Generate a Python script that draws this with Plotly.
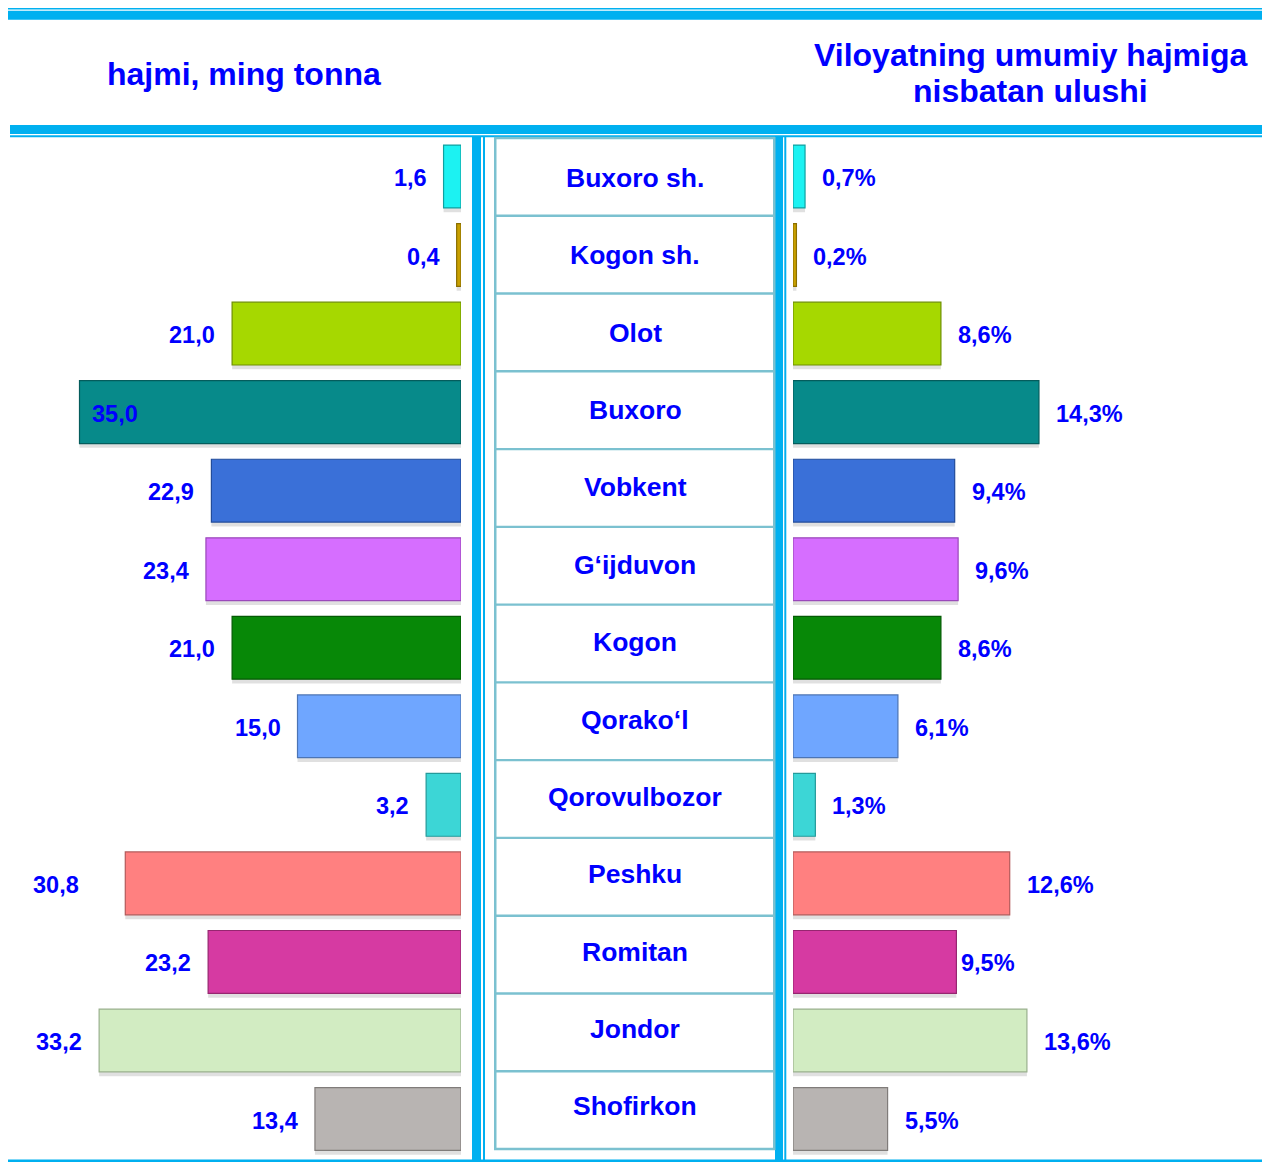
import plotly.graph_objects as go

W, H = 1262, 1162

categories = ["Buxoro sh.", "Kogon sh.", "Olot", "Buxoro", "Vobkent", "G\u2018ijduvon", "Kogon",
              "Qorako\u2018l", "Qorovulbozor", "Peshku", "Romitan", "Jondor", "Shofirkon"]
volume = [1.6, 0.4, 21.0, 35.0, 22.9, 23.4, 21.0, 15.0, 3.2, 30.8, 23.2, 33.2, 13.4]
share = [0.7, 0.2, 8.6, 14.3, 9.4, 9.6, 8.6, 6.1, 1.3, 12.6, 9.5, 13.6, 5.5]
colors = ["#1CF2F2", "#C9A000", "#A6D800", "#078A8A", "#3A70D8", "#D66EFF", "#078807",
          "#6FA6FF", "#3CD6D6", "#FF8080", "#D63AA2", "#D2ECC2", "#B8B4B2"]
edge = ["#10A0A0", "#8A6E00", "#6E9000", "#045C5C", "#234C9A", "#9A48BA", "#045A04",
        "#4C74B4", "#249A9A", "#B45A5A", "#962670", "#9AB08E", "#807C7A"]

left_title = "hajmi, ming tonna"
right_title = ["Viloyatning umumiy hajmiga", "nisbatan ulushi"]

BLUE = "#00B0F0"
TABLE = "#7BC1D0"
TXT = "#0000FF"
FONT = "Liberation Sans, Arial, sans-serif"
VAL_SIZE = 23.5


def fx(x):
    return x / W


def fy(y):
    return 1 - y / H


def fmt(v):
    return f"{v:.1f}".replace(".", ",")


fig = go.Figure()
for xs, ax in ((volume, "x"), (share, "x2")):
    # soft drop shadow
    fig.add_trace(go.Bar(
        x=xs, y=categories, orientation="h", xaxis=ax, yaxis="y",
        width=0.8, offset=-0.4 + 0.055,
        marker=dict(color="rgba(0,0,0,0.12)", line=dict(width=0)),
        hoverinfo="skip", showlegend=False,
    ))
    fig.add_trace(go.Bar(
        x=xs, y=categories, orientation="h", xaxis=ax, yaxis="y",
        width=0.8, offset=-0.4,
        marker=dict(color=colors, line=dict(color=edge, width=1.2)),
        hoverinfo="skip", showlegend=False,
    ))

annotations = []
# value labels (left)
for c, v in zip(categories, volume):
    if v == max(volume):
        annotations.append(dict(x=v, y=c, xref="x", yref="y", text=fmt(v), showarrow=False,
                                xanchor="left", xshift=10, yshift=-1.5,
                                font=dict(family=FONT, size=VAL_SIZE, color=TXT, weight="bold")))
    else:
        shift = -44 if c == "Peshku" else -15
        annotations.append(dict(x=v, y=c, xref="x", yref="y", text=fmt(v), showarrow=False,
                                xanchor="right", xshift=shift, yshift=-1.5,
                                font=dict(family=FONT, size=VAL_SIZE, color=TXT, weight="bold")))
# value labels (right)
for c, v in zip(categories, share):
    shift = 3 if c == "Romitan" else 15
    annotations.append(dict(x=v, y=c, xref="x2", yref="y", text=fmt(v) + "%", showarrow=False,
                            xanchor="left", xshift=shift, yshift=-1.5,
                            font=dict(family=FONT, size=VAL_SIZE, color=TXT, weight="bold")))

# table category labels
t_top, t_bot = 138.0, 1149.0
row_h = (t_bot - t_top) / len(categories)
for i, c in enumerate(categories):
    cy = t_top + 40 + i * (row_h - 0.4)
    annotations.append(dict(x=fx(635), y=fy(cy), xref="paper", yref="paper", text=c, showarrow=False,
                            xanchor="center", yanchor="middle",
                            font=dict(family=FONT, size=26.5, color=TXT, weight="bold")))

# headers
annotations.append(dict(x=fx(244), y=fy(74), xref="paper", yref="paper", text=left_title,
                        showarrow=False, xanchor="center", yanchor="middle",
                        font=dict(family=FONT, size=32, color=TXT, weight="bold")))
for k, t in enumerate(right_title):
    annotations.append(dict(x=fx(1030), y=fy(55 + 36 * k), xref="paper", yref="paper", text=t,
                            showarrow=False, xanchor="center", yanchor="middle",
                            font=dict(family=FONT, size=32, color=TXT, weight="bold")))

shapes = []


def rect(x0, y0, x1, y1, color):
    shapes.append(dict(type="rect", xref="paper", yref="paper", x0=fx(x0), x1=fx(x1),
                       y0=fy(y1), y1=fy(y0), fillcolor=color, line=dict(width=0), layer="below"))


# horizontal frame lines
rect(8, 8, W, 9.5, BLUE)
rect(8, 10.7, W, 19.7, BLUE)
rect(10, 125, W, 134, BLUE)
rect(10, 135.3, W, 137.3, BLUE)
rect(8, 1159.5, W, H, BLUE)
# vertical double lines
rect(472, 137, 481, H, BLUE)
rect(483, 137, 485, H, BLUE)
rect(775, 137, 783, H, BLUE)
rect(784.3, 137, 786.3, H, BLUE)
# table
rect(494, 137, 496.5, 1150, TABLE)
rect(773, 137, 775.5, 1150, TABLE)
for k in range(len(categories) + 1):
    yy = t_top + row_h * k
    rect(494, yy - 1.2, 775, yy + 1.2, TABLE)

bar_top, bar_bot = 137.2, 1158.3
fig.update_layout(
    width=W, height=H, margin=dict(l=0, r=0, t=0, b=0),
    paper_bgcolor="white", plot_bgcolor="rgba(0,0,0,0)",
    xaxis=dict(domain=[0, fx(461)], range=[461 / 10.9, 0], showgrid=False, zeroline=False,
               showticklabels=False, showline=False, ticks=""),
    xaxis2=dict(domain=[fx(793), 1], range=[0, (W - 793) / 17.2], showgrid=False, zeroline=False,
                showticklabels=False, showline=False, ticks=""),
    yaxis=dict(domain=[fy(bar_bot), fy(bar_top)], categoryorder="array", categoryarray=categories,
               range=[len(categories) - 0.5, -0.5], showgrid=False, zeroline=False,
               showticklabels=False, showline=False, ticks=""),
    annotations=annotations, shapes=shapes,
)

fig.write_html(
    "out.html",
    config={"responsive": False, "displayModeBar": False},
    post_script="document.body.style.margin='0px';document.body.style.overflow='hidden';",
)
